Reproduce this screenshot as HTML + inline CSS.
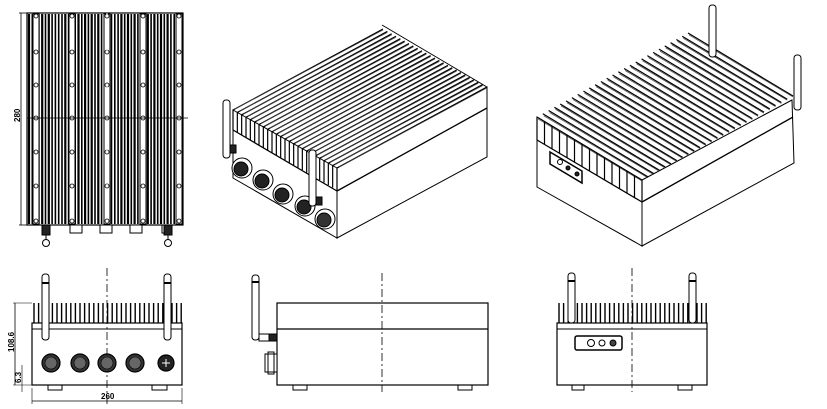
<!DOCTYPE html>
<html><head><meta charset="utf-8"><style>
html,body{margin:0;padding:0;background:#fff;width:827px;height:409px;overflow:hidden}
svg{display:block}
text{font-family:"Liberation Sans",sans-serif;font-weight:bold;font-size:8px}
</style></head><body>
<svg id="s" width="827" height="409" viewBox="0 0 827 409" xmlns="http://www.w3.org/2000/svg" stroke="#000" fill="none" stroke-width="1">
<g id="tv">
<rect x="27" y="13" width="156" height="212" fill="#fff" stroke-width="1.2"/>
<line x1="21" y1="13" x2="21" y2="225" stroke-width="0.8"/>
<line x1="19" y1="13" x2="27" y2="13" stroke-width="0.8"/>
<line x1="19" y1="225" x2="27" y2="225" stroke-width="0.8"/>
<text x="0" y="0" transform="translate(20,122) rotate(-90)" stroke="none" fill="#000" font-size="7">280</text>
</g>
<g>
<rect x="32" y="323" width="150" height="62" fill="#fff" stroke-width="1.2"/>
<line x1="32" y1="329" x2="182" y2="329"/>
<rect x="48" y="385" width="14" height="5"/><rect x="152" y="385" width="15" height="5"/>
<line x1="15" y1="303" x2="15" y2="385" stroke-width="0.8"/>
<line x1="13" y1="303" x2="32" y2="303" stroke-width="0.6"/>
<line x1="13" y1="385" x2="32" y2="385" stroke-width="0.6"/>
<line x1="22" y1="365" x2="22" y2="392" stroke-width="0.6"/>
<line x1="32" y1="388" x2="32" y2="404" stroke-width="0.6"/>
<line x1="182" y1="388" x2="182" y2="404" stroke-width="0.6"/>
<line x1="32" y1="401" x2="182" y2="401" stroke-width="0.8"/>
<text transform="translate(14,352) rotate(-90)" stroke="none" fill="#000" font-size="7">108.6</text>
<text transform="translate(21,383) rotate(-90)" stroke="none" fill="#000" font-size="7">6.3</text>
<text x="101" y="399" stroke="none" fill="#000" font-size="7">260</text>
<line x1="107" y1="268" x2="107" y2="405" stroke-dasharray="8,3,2,3" stroke-width="0.8"/>
</g>
<g>
<rect x="277" y="303" width="211" height="82" fill="#fff" stroke-width="1.2"/>
<line x1="277" y1="329" x2="488" y2="329" stroke-width="1.2"/>
<rect x="293" y="385" width="14" height="5"/><rect x="458" y="385" width="14" height="5"/>
<rect x="252" y="275" width="7" height="65" rx="3" fill="#fff"/>
<line x1="252" y1="282" x2="259" y2="282" stroke-width="2"/>
<rect x="259" y="334" width="18" height="7" fill="#fff"/><rect x="269" y="334" width="8" height="7" fill="#222"/>
<rect x="265" y="354" width="12" height="18" fill="#fff"/><rect x="268" y="352" width="6" height="22"/>
<line x1="382" y1="273" x2="382" y2="392" stroke-dasharray="8,3,2,3" stroke-width="0.8"/>
</g>
<g>
<rect x="557" y="323" width="150" height="62" fill="#fff" stroke-width="1.2"/>
<line x1="557" y1="329" x2="707" y2="329"/>
<rect x="572" y="385" width="12" height="5"/><rect x="678" y="385" width="14" height="5"/>
<rect x="575" y="336" width="47" height="14" rx="2" stroke-width="1.5"/>
<circle cx="591" cy="343" r="3.5"/><circle cx="602" cy="343" r="3"/><circle cx="613" cy="343" r="3" fill="#444"/>
<line x1="632" y1="268" x2="632" y2="392" stroke-dasharray="8,3,2,3" stroke-width="0.8"/>
</g>
<g id="dyn"></g>
</svg>
<script>
var d=document.getElementById('dyn'),h='';
function L(a,b,c,e,w,col){h+='<line x1="'+a+'" y1="'+b+'" x2="'+c+'" y2="'+e+'" stroke-width="'+(w||1)+'"'+(col?' stroke="'+col+'"':'')+'/>';}
function P(pts,f,w){h+='<polygon points="'+pts.map(p=>p.join(',')).join(' ')+'" fill="'+(f||'#fff')+'" stroke-width="'+(w||1)+'"/>';}
function C(x,y,r,f,w){h+='<circle cx="'+x+'" cy="'+y+'" r="'+r+'" fill="'+(f||'#fff')+'" stroke-width="'+(w||1)+'"/>';}
function R(x,y,w,hh,f,rx){h+='<rect x="'+x+'" y="'+y+'" width="'+w+'" height="'+hh+'" fill="'+(f||'#fff')+'"'+(rx?' rx="'+rx+'"':'')+'/>';}
for(var x=29;x<182;x+=3.3){L(x,14,x,224,(Math.round(x)%7<3)?2.2:1.6);}
[36,72,107,143,179].forEach(function(x){R(x-3,14,6,210,'#fff');[16,52,85,118,152,186,221].forEach(function(y){C(x,y,2,'#fff',0.8);});});
L(27,118,188,118,0.8);
h+='<line x1="107" y1="13" x2="107" y2="225" stroke="#fff" stroke-dasharray="3,6" stroke-width="1"/>';
[[42,48],[70,82],[100,112],[130,142],[162,172]].forEach(function(p){R(p[0],225,p[1]-p[0],8);});
R(42,225,8,10,'#222');R(164,225,8,10,'#222');
C(46,243,3.5);C(168,243,3.5);L(46,235,46,240);L(168,235,168,240);
for(var x=34;x<182;x+=4.6){L(x,303,x,323,1.4);}
[45,167].forEach(function(x){R(x-3,274,7,66,'#fff',3);L(x-3,283,x+4,283,2);});
[51,80,107,135].forEach(function(x){C(x,363,9,'#333',1.2);C(x,363,6,'#666',0.6);});
C(166,363,8,'#222',1.2);L(162,363,170,363,1,'#fff');L(166,359,166,367,1,'#fff');
for(var x=559;x<707;x+=4.6){L(x,303,x,323,1.4);}
[571,692].forEach(function(x){R(x-3,273,7,50,'#fff',3);L(x-3,281,x+4,281,2);});
P([[233,110],[337,168],[337,238],[233,178]]);
P([[337,168],[487,87],[487,157],[337,238]]);
L(233,130,337,191,1.3);L(337,191,487,108,1.3);
var n=24;
for(var i=0;i<=n;i++){var t=i/n,fx=233+104*t,fy=110+58*t;
 L(fx,fy,fx+150,fy-81,1.2);L(fx+2,fy-1,fx+150,fy-80,0.7,'#444');
 L(fx,fy,fx,fy+20+t*2,1.2);
}
L(382,25,487,87,1);
[[242,168],[263,180],[283,194],[305,206],[325,219]].forEach(function(p,i){C(p[0],p[1],10,'#fff');C(p[0]-1,p[1]+1,7,i==4?'#333':'#222');});
R(223,100,7,58,'#fff',3);R(309,150,7,56,'#fff',3);
R(230,145,6,8,'#222');R(316,197,6,8,'#222');
P([[537,117],[642,180],[642,246],[537,187]]);
P([[642,180],[792,100],[794,163],[642,246]]);
L(537,140,642,202,1.3);L(642,202,793,117,1.3);
var m=26;
for(var i=0;i<=m;i++){var t=i/m,fx=537+151*t,fy=117-84*t;
 L(fx,fy,fx+105,fy+63,1.2);L(fx+1,fy+2,fx+105,fy+64,0.7,'#444');
}
for(var i=0;i<=14;i++){var t=i/14;L(537+105*t,117+63*t,537+105*t,140+62*t,1.2);}
P([[550,152],[582,171],[582,183],[550,164]],'#fff',1.5);
C(560,162,2.5);C(568,168,2,'#222');C(577,174,2,'#222');
R(709,5,7,52,'#fff',3);R(794,55,7,55,'#fff',3);
d.innerHTML=h;
</script>
</body></html>
